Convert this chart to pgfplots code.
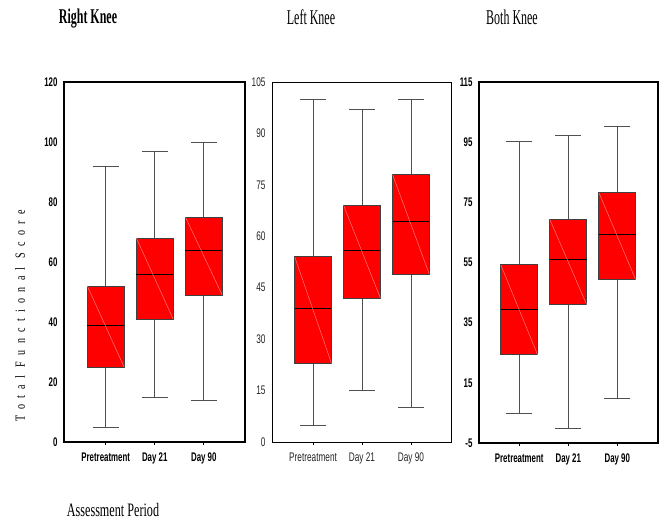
\documentclass[border=0pt]{standalone}
\usepackage{pgfplots}
\pgfplotsset{compat=1.18}
\usepgfplotslibrary{statistics}
\usepackage{fontspec}
\setmainfont{Liberation Serif}
\newfontfamily\narrowsans[FakeStretch=0.63]{Liberation Sans}
\newfontfamily\narrowsansreg[FakeStretch=0.66]{Liberation Sans}
\newfontfamily\narrowserif[FakeStretch=0.57]{Liberation Serif}
\newfontfamily\assessserif[FakeStretch=0.64]{Liberation Serif}
\newfontfamily\spacedserif[FakeStretch=0.72,LetterSpace=45]{Liberation Serif}
\definecolor{boxedge}{HTML}{404040}
\definecolor{whisk}{HTML}{505050}
\definecolor{diag}{HTML}{FF8C8C}
\newcommand{\kbox}[6]{%
  \addplot[boxplot prepared={draw position=#1, lower whisker=#2,
    lower quartile=#3, median=#4, upper quartile=#5, upper whisker=#6,
    box extend=0.75, whisker extend=0.53},
    solid, mark=none, draw=boxedge, line width=0.9pt] coordinates {};
}
\pgfplotsset{
  kneeaxis/.style={
    scale only axis, anchor=south west,
    boxplot/draw direction=y,
    xtick={1,2,3}, xticklabels={Pretreatment,Day 21,Day 90},
    tick align=outside, xtick pos=left, ytick pos=left,
    ytick style={draw=none}, xtick style={black, line width=0.8pt},
    major tick length=3pt,
    /pgf/number format/assume math mode=true,
    xticklabel style={yshift=-4pt},
    boxplot/every whisker/.style={draw=whisk, fill=none, line width=0.7pt},
    boxplot/every median/.style={draw=black, fill=none, line width=0.9pt},
    boxplot/every box/.style={draw=boxedge, fill=red, line width=0.9pt},
    clip=false,
  },
  boldaxis/.style={
    axis line style={black, line width=1.4pt},
    ticklabel style={font=\fontsize{12.5}{14}\narrowsans\bfseries},
  },
  regaxis/.style={
    axis line style={black, line width=0.9pt},
    ticklabel style={font=\fontsize{12.5}{14}\narrowsansreg, text=black!85},
  },
}
\begin{document}
\begin{tikzpicture}
\useasboundingbox (0pt,0pt) rectangle (660pt,520pt);

% Right Knee
\begin{axis}[kneeaxis, boldaxis, at={(64pt,78pt)}, width=181pt, height=360pt,
  xmin=0.15, xmax=3.84, ymin=0, ymax=120, ytick={0,20,...,120}]
\kbox{1}{5}{25}{39}{52}{92}
\kbox{2}{15}{41}{56}{68}{97}
\kbox{3}{14}{49}{64}{75}{100}
\addplot[diag, line width=0.4pt] coordinates {(0.625,52) (1.375,25)};
\addplot[diag, line width=0.4pt] coordinates {(1.625,68) (2.375,41)};
\addplot[diag, line width=0.4pt] coordinates {(2.625,75) (3.375,49)};
\end{axis}

% Left Knee
\begin{axis}[kneeaxis, regaxis, at={(272pt,78pt)}, width=179pt, height=360pt,
  xmin=0.16, xmax=3.82, ymin=0, ymax=105, ytick={0,15,...,105}]
\kbox{1}{5}{23}{39}{54}{100}
\kbox{2}{15}{42}{56}{69}{97}
\kbox{3}{10}{49}{64.4}{78}{100}
\addplot[diag, line width=0.4pt] coordinates {(0.625,54) (1.375,23)};
\addplot[diag, line width=0.4pt] coordinates {(1.625,69) (2.375,42)};
\addplot[diag, line width=0.4pt] coordinates {(2.625,78) (3.375,49)};
\end{axis}

% Both Knee
\begin{axis}[kneeaxis, boldaxis, at={(479pt,77pt)}, width=179pt, height=361pt,
  xmin=0.18, xmax=3.83, ymin=-5, ymax=115, ytick={-5,15,35,55,75,95,115}]
\kbox{1}{5}{24.3}{39.4}{54.2}{95.4}
\kbox{2}{0}{41}{56}{69.3}{97.4}
\kbox{3}{10}{49.3}{64.3}{78.2}{100.3}
\addplot[diag, line width=0.4pt] coordinates {(0.625,54.2) (1.375,24.3)};
\addplot[diag, line width=0.4pt] coordinates {(1.625,69.3) (2.375,41)};
\addplot[diag, line width=0.4pt] coordinates {(2.625,78.2) (3.375,49.3)};
\end{axis}

\node[anchor=base, font=\fontsize{21}{23}\narrowserif\bfseries] at (88pt,496pt) {Right Knee};
\node[anchor=base, font=\fontsize{21}{23}\narrowserif] at (311pt,495pt) {Left Knee};
\node[anchor=base, font=\fontsize{21}{23}\narrowserif] at (512pt,495pt) {Both Knee};
\node[anchor=base, font=\fontsize{19}{21}\assessserif] at (113pt,4pt) {Assessment Period};
\node[rotate=90, font=\fontsize{14}{15}\spacedserif] at (20pt,204pt) {Total Functional Score};
\end{tikzpicture}
\end{document}
